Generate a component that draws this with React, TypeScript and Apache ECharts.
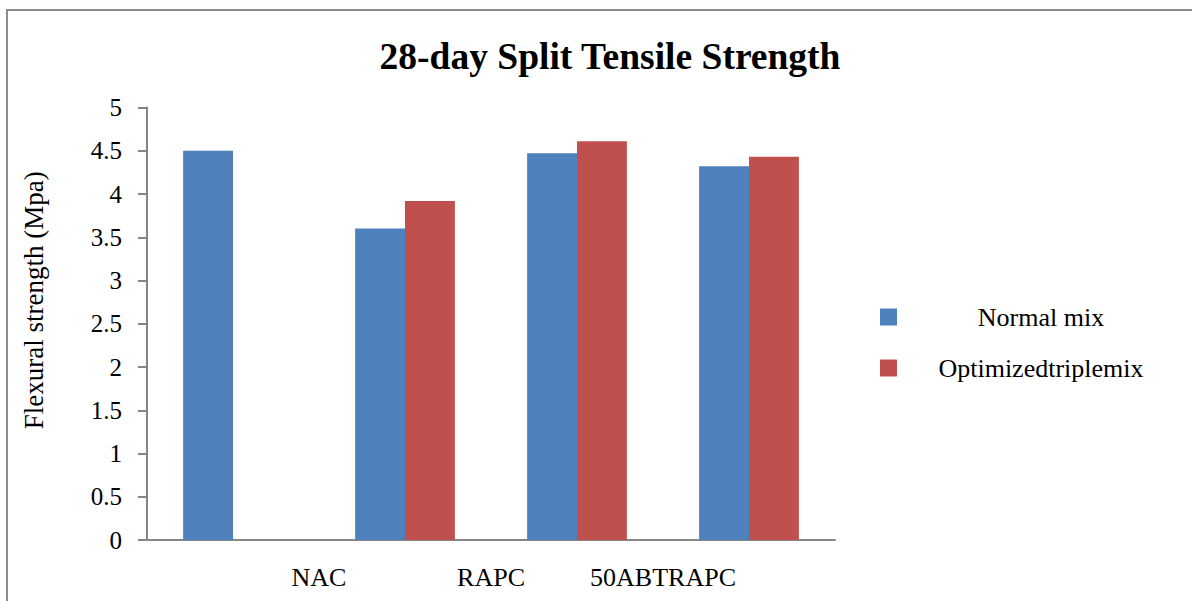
import React, { useEffect, useRef } from "react";
import * as echarts from "echarts";

const categories = ["NAC-group", "RAPC-group", "50ABTRAPC-group", "Group4"];
const xTickLabels = ["", "NAC", "RAPC", "50ABTRAPC", ""];
const normalMix = [4.5, 3.6, 4.47, 4.32];
const optimizedTripleMix = [null, 3.92, 4.61, 4.43];
const seriesNames = ["Normal mix", "Optimizedtriplemix"];

const FONT = "'Liberation Serif', 'Times New Roman', serif";

export default function App() {
  const ref = useRef<HTMLDivElement>(null);
  useEffect(() => {
    if (!ref.current) return;
    const chart = echarts.init(ref.current, undefined, { renderer: "svg" });
    chart.setOption({
      animation: false,
      backgroundColor: "#ffffff",
      title: {
        text: "28-day Split Tensile Strength",
        left: 605,
        top: 32,
        textAlign: "center",
        textStyle: { fontFamily: FONT, fontSize: 37.5, fontWeight: "bold", color: "#000" },
      },
      graphic: [
        {
          type: "rect",
          shape: { x: 7, y: 10, width: 1300, height: 700 },
          style: { fill: "none", stroke: "#8c8c8c", lineWidth: 2 },
          silent: true,
        },
      ],
      legend: {
        orient: "vertical",
        left: 880,
        top: 304,
        padding: 0,
        itemWidth: 17,
        itemHeight: 17,
        itemGap: 25,
        icon: "rect",
        data: seriesNames,
        formatter: (name: string) => `{t|${name}}`,
        textStyle: {
          fontFamily: FONT,
          fontSize: 26,
          color: "#000",
          rich: {
            t: { width: 278, align: "center", fontFamily: FONT, fontSize: 26, color: "#000", lineHeight: 26 },
          },
        },
      },
      grid: { left: 147, right: 357, top: 107.5, bottom: 61, containLabel: false },
      xAxis: [
        {
          type: "category",
          data: categories,
          axisLine: { show: true, lineStyle: { color: "#868686", width: 2 } },
          axisTick: { show: false },
          axisLabel: { show: false },
        },
        {
          type: "category",
          data: xTickLabels,
          boundaryGap: false,
          position: "bottom",
          axisLine: { show: false },
          axisTick: { show: false },
          axisLabel: {
            show: true,
            interval: 0,
            margin: 24,
            fontFamily: FONT,
            fontSize: 26,
            color: "#000",
          },
        },
      ],
      yAxis: {
        type: "value",
        min: 0,
        max: 5,
        interval: 0.5,
        name: "Flexural strength (Mpa)",
        nameLocation: "middle",
        nameGap: 100,
        nameRotate: 90,
        nameTextStyle: { fontFamily: FONT, fontSize: 27, color: "#000", padding: [0, 0, 0, 47] },
        splitLine: { show: false },
        axisLine: { show: true, lineStyle: { color: "#868686", width: 2 } },
        axisTick: { show: true, length: 9, lineStyle: { color: "#868686", width: 2 } },
        axisLabel: { margin: 25, fontFamily: FONT, fontSize: 25, color: "#000" },
      },
      series: [
        {
          name: seriesNames[0],
          type: "bar",
          xAxisIndex: 0,
          data: normalMix,
          barGap: "0%",
          barCategoryGap: "42%",
          itemStyle: { color: "#4F81BD" },
        },
        {
          name: seriesNames[1],
          type: "bar",
          xAxisIndex: 0,
          data: optimizedTripleMix,
          itemStyle: { color: "#C0504D" },
        },
      ],
    });
    return () => chart.dispose();
  }, []);
  return (
    <div
      ref={ref}
      style={{ position: "fixed", left: 0, top: 0, width: 1192, height: 601 }}
    />
  );
}
